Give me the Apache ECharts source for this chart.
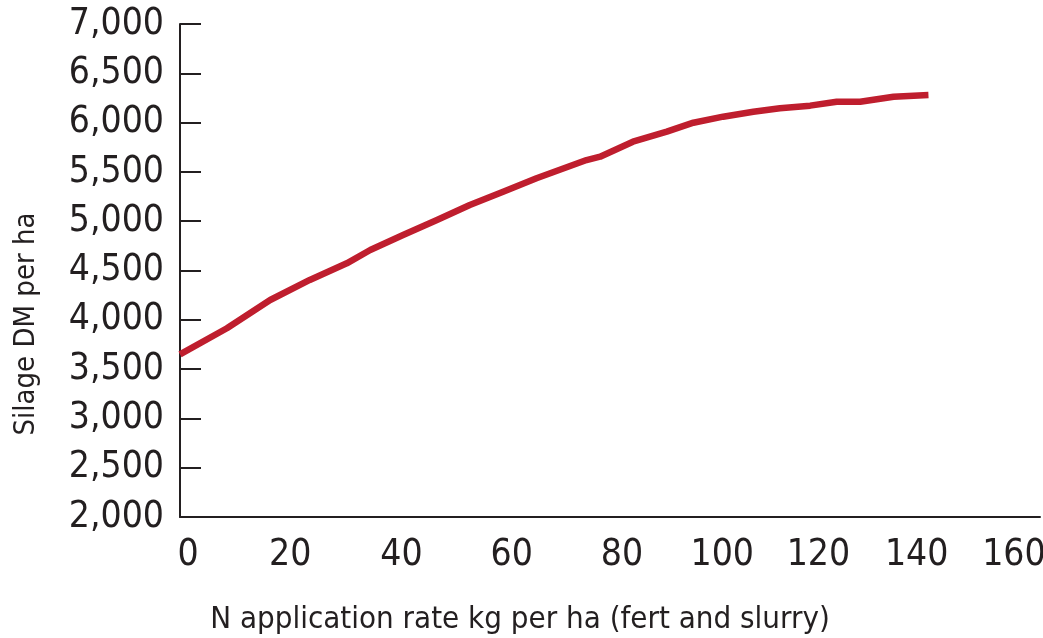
<!DOCTYPE html>
<html>
<head>
<meta charset="utf-8">
<script src="https://cdn.jsdelivr.net/npm/echarts@6/dist/echarts.min.js"></script>
<style>
html,body{margin:0;padding:0;background:#fff;}
#chart{width:1043px;height:638px;}
</style>
</head>
<body>
<div id="chart"></div>
<script>
// N application rate (kg per ha) and silage DM per ha
const nRate = [0, 9, 17.3, 24.9, 32, 36.5, 42.8, 49.3, 55.6, 62, 68.4, 78, 80.6, 86.9, 93.4, 98.5, 104.2, 110, 115.1, 120.9, 126, 130.5, 136.9, 143.6];
const silageDM = [3650, 3914, 4201, 4404, 4573, 4708, 4860, 5012, 5164, 5299, 5435, 5620, 5654, 5806, 5908, 5999, 6060, 6110, 6145, 6172, 6212, 6212, 6263, 6280];
const xTicks = [0, 20, 40, 60, 80, 100, 120, 140, 160];
const yTicks = [2000, 2500, 3000, 3500, 4000, 4500, 5000, 5500, 6000, 6500, 7000];
const xTitle = 'N application rate kg per ha (fert and slurry)';
const yTitle = 'Silage DM per ha';

const FONT = '"Liberation Sans Narrow", "DejaVu Sans Condensed", "Liberation Sans", sans-serif';
const INK = '#231F20';

// small label nudges so tick labels sit where the original print places them
const nudge = {0: 16, 20: 12, 40: 26, 60: 38, 80: 50, 100: 42, 120: 26, 140: 14, 160: 0};
const rich = {};
xTicks.forEach(t => { rich['t' + t] = {padding: [0, 0, 0, nudge[t]], fontSize: 37, fontFamily: FONT, color: INK}; });

const chart = echarts.init(document.getElementById('chart'));
chart.setOption({
  animation: false,
  grid: {left: 180, right: 3, top: 24, bottom: 121, containLabel: false, outerBoundsMode: 'none'},
  xAxis: {
    type: 'value',
    min: 0, max: 165, interval: 20,
    axisLine: {lineStyle: {color: INK, width: 2}},
    axisTick: {show: false},
    splitLine: {show: false},
    axisLabel: {
      showMaxLabel: false,
      color: INK, fontFamily: FONT, fontSize: 37, margin: 20,
      rich: rich,
      formatter: v => xTicks.includes(v) ? '{t' + v + '|' + v + '}' : ''
    }
  },
  yAxis: {
    type: 'value',
    min: yTicks[0], max: yTicks[yTicks.length - 1], interval: 500,
    axisLine: {show: true, lineStyle: {color: INK, width: 2}},
    axisTick: {show: true, inside: true, length: 21, lineStyle: {color: INK, width: 2}},
    splitLine: {show: false},
    axisLabel: {
      color: INK, fontFamily: FONT, fontSize: 37, margin: 16,
      formatter: v => v.toLocaleString('en-US')
    }
  },
  graphic: [
    {type: 'text', x: 520, y: 620, style: {text: xTitle, fill: INK, font: '31px ' + FONT, textAlign: 'center', textVerticalAlign: 'middle'}},
    {type: 'text', x: 26, y: 324, rotation: Math.PI / 2, style: {text: yTitle, fill: INK, font: '29px ' + FONT, textAlign: 'center', textVerticalAlign: 'middle'}}
  ],
  series: [{
    type: 'line',
    data: nRate.map((x, i) => [x, silageDM[i]]),
    showSymbol: false,
    lineStyle: {color: '#BF1E2E', width: 6.5, cap: 'butt', join: 'round'},
    smooth: false
  }]
});
</script>
</body>
</html>
